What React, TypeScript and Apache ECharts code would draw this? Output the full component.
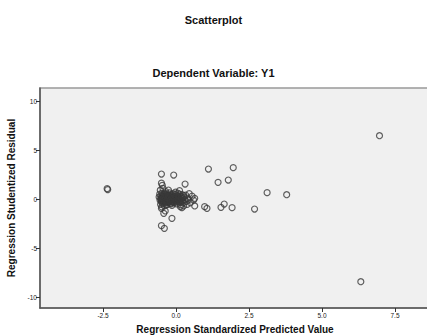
import React, { useEffect, useRef } from "react";
import * as echarts from "echarts";

const titleText = "Scatterplot";
const subtitleText = "Dependent Variable: Y1";
const xAxisName = "Regression Standardized Predicted Value";
const yAxisName = "Regression Studentized Residual";
const xTicks = [-2.5, 0, 2.5, 5, 7.5];
const yTicks = [-10, -5, 0, 5, 10];

const outlierPoints: number[][] = [
  [-2.36, 1.06], [-2.34, 0.96],
  [6.97, 6.46], [6.33, -8.44],
  [1.11, 3.06], [1.96, 3.2], [1.44, 1.7], [1.79, 1.94], [3.12, 0.65], [3.79, 0.44],
  [1.54, -0.85], [1.65, -0.51], [1.92, -0.88], [2.69, -1.02],
];

const spreadPoints: number[][] = [
  [-0.5, 2.55], [-0.08, 2.45], [0.31, 1.53], [-0.5, 1.62], [-0.47, 1.4], [-0.45, 1.09],
  [-0.26, 0.92], [0.12, 0.85], [0.26, 0.34], [0.55, 0.3], [0.64, 0.07], [0.6, -0.1],
  [0.49, -0.38], [0.64, -0.71], [0.98, -0.78], [1.06, -0.95], [0.15, -0.78], [0.2, -0.88],
  [-0.5, -0.95], [-0.37, -1.22], [-0.42, -1.46], [-0.14, -1.97], [-0.5, -2.72], [-0.4, -2.99],
];

const clusterPoints: number[][] = [
  [-0.58, 0.2], [-0.55, -0.1], [-0.52, 0.35], [-0.5, -0.3], [-0.5, 0.05], [-0.48, 0.6],
  [-0.46, -0.5], [-0.45, 0.15], [-0.44, -0.15], [-0.42, 0.45], [-0.4, -0.7], [-0.4, 0.0],
  [-0.38, 0.28], [-0.36, -0.38], [-0.35, 0.75], [-0.34, 0.1], [-0.32, -0.2], [-0.3, 0.5],
  [-0.3, -0.55], [-0.28, 0.2], [-0.27, -0.05], [-0.25, 0.38], [-0.24, -0.3], [-0.22, 0.62],
  [-0.2, 0.08], [-0.2, -0.45], [-0.18, 0.25], [-0.16, -0.12], [-0.15, 0.45], [-0.14, -0.65],
  [-0.12, 0.15], [-0.1, -0.28], [-0.1, 0.55], [-0.08, 0.02], [-0.06, -0.4], [-0.05, 0.3],
  [-0.03, -0.15], [-0.02, 0.7], [0.0, 0.12], [0.02, -0.5], [0.04, 0.35], [0.05, -0.05],
  [0.08, 0.2], [0.1, -0.3], [0.12, 0.5], [0.14, 0.0], [0.16, -0.6], [0.18, 0.28],
  [0.2, -0.15], [0.22, 0.1], [0.25, -0.4], [0.28, 0.18], [0.3, -0.05], [0.33, 0.4],
  [0.35, -0.25], [-0.56, 0.5], [-0.53, -0.55], [-0.47, 0.25], [-0.43, -0.3], [-0.39, 0.6],
  [-0.33, -0.6], [-0.29, 0.35], [-0.26, -0.25], [-0.21, 0.05], [-0.17, -0.5], [-0.13, 0.35],
  [-0.09, -0.1], [-0.04, 0.48], [0.01, -0.3], [0.06, 0.6], [0.11, 0.15], [0.15, -0.35],
  [0.21, 0.45], [0.26, -0.7], [-0.54, 0.9], [-0.49, -0.8], [0.4, 0.1], [0.38, -0.55],
  [0.45, 0.55], [0.42, -0.1],
];

const corePoints: number[][] = [
  [-0.52, 0.1], [-0.51, -0.12], [-0.49, 0.22], [-0.47, -0.22], [-0.46, 0.4], [-0.44, 0.05],
  [-0.41, -0.35], [-0.41, 0.2], [-0.39, -0.08], [-0.37, 0.42], [-0.36, 0.0], [-0.35, -0.25],
  [-0.33, 0.3], [-0.31, -0.1], [-0.31, 0.15], [-0.29, -0.35], [-0.27, 0.08], [-0.26, 0.28],
  [-0.23, -0.15], [-0.22, 0.18], [-0.19, -0.3], [-0.18, 0.4], [-0.16, 0.05], [-0.13, -0.2],
  [-0.11, 0.25], [-0.08, -0.35], [-0.07, 0.15], [-0.04, -0.05], [-0.01, 0.22], [0.03, -0.18],
  [0.07, 0.05], [0.09, 0.3], [0.13, -0.15], [0.17, 0.12],
];

const allPoints = [...outlierPoints, ...spreadPoints, ...clusterPoints, ...corePoints];

export default function App() {
  const ref = useRef<HTMLDivElement>(null);
  useEffect(() => {
    if (!ref.current) return;
    const chart = echarts.init(ref.current, undefined, { renderer: "svg" });
    const font = "'Liberation Sans', Arial, sans-serif";
    chart.setOption({
      animation: false,
      backgroundColor: "#ffffff",
      title: [
        {
          text: titleText,
          left: "center",
          top: 9,
          textStyle: { fontFamily: font, fontSize: 11, fontWeight: "bold", color: "#111" },
        },
        {
          text: subtitleText,
          left: "center",
          top: 62,
          textStyle: { fontFamily: font, fontSize: 11, fontWeight: "bold", color: "#111" },
        },
      ],
      grid: {
        left: 40,
        right: -3,
        top: 88,
        bottom: 27,
        show: true,
        backgroundColor: "#f0f0f0",
        borderColor: "#999",
        borderWidth: 1.5,
        containLabel: false,
        outerBoundsMode: "none",
      },
      xAxis: {
        type: "value",
        min: -4.66,
        max: 8.7,
        name: xAxisName,
        nameLocation: "middle",
        nameGap: 16,
        nameTextStyle: { fontFamily: font, fontSize: 10, fontWeight: "bold", color: "#111" },
        splitLine: { show: false },
        axisLine: { show: true, onZero: false, lineStyle: { color: "#555", width: 1.5 } },
        axisTick: { show: true, length: 4, customValues: xTicks, lineStyle: { color: "#333" } },
        axisLabel: {
          customValues: xTicks,
          fontFamily: font,
          fontSize: 6.5,
          color: "#222",
          margin: 4,
          formatter: (v: number) => v.toFixed(1),
        },
      },
      yAxis: {
        type: "value",
        min: -11.12,
        max: 11.33,
        name: yAxisName,
        nameLocation: "middle",
        nameGap: 18,
        nameTextStyle: { fontFamily: font, fontSize: 10, fontWeight: "bold", color: "#111" },
        splitLine: { show: false },
        axisLine: { show: true, onZero: false, lineStyle: { color: "#555", width: 1.5 } },
        axisTick: { show: true, length: 4, customValues: yTicks, lineStyle: { color: "#333" } },
        axisLabel: {
          customValues: yTicks,
          fontFamily: font,
          fontSize: 6.5,
          color: "#222",
          margin: 3,
          formatter: (v: number) => String(v),
        },
      },
      series: [
        {
          type: "scatter",
          data: allPoints,
          symbol: "circle",
          symbolSize: 6,
          itemStyle: { color: "rgba(0,0,0,0)", borderColor: "#3a3a3a", borderWidth: 1.2 },
        },
      ],
    });
    return () => chart.dispose();
  }, []);
  return (
    <div
      ref={ref}
      style={{ position: "absolute", left: 0, top: 0, width: 427, height: 335 }}
    />
  );
}
